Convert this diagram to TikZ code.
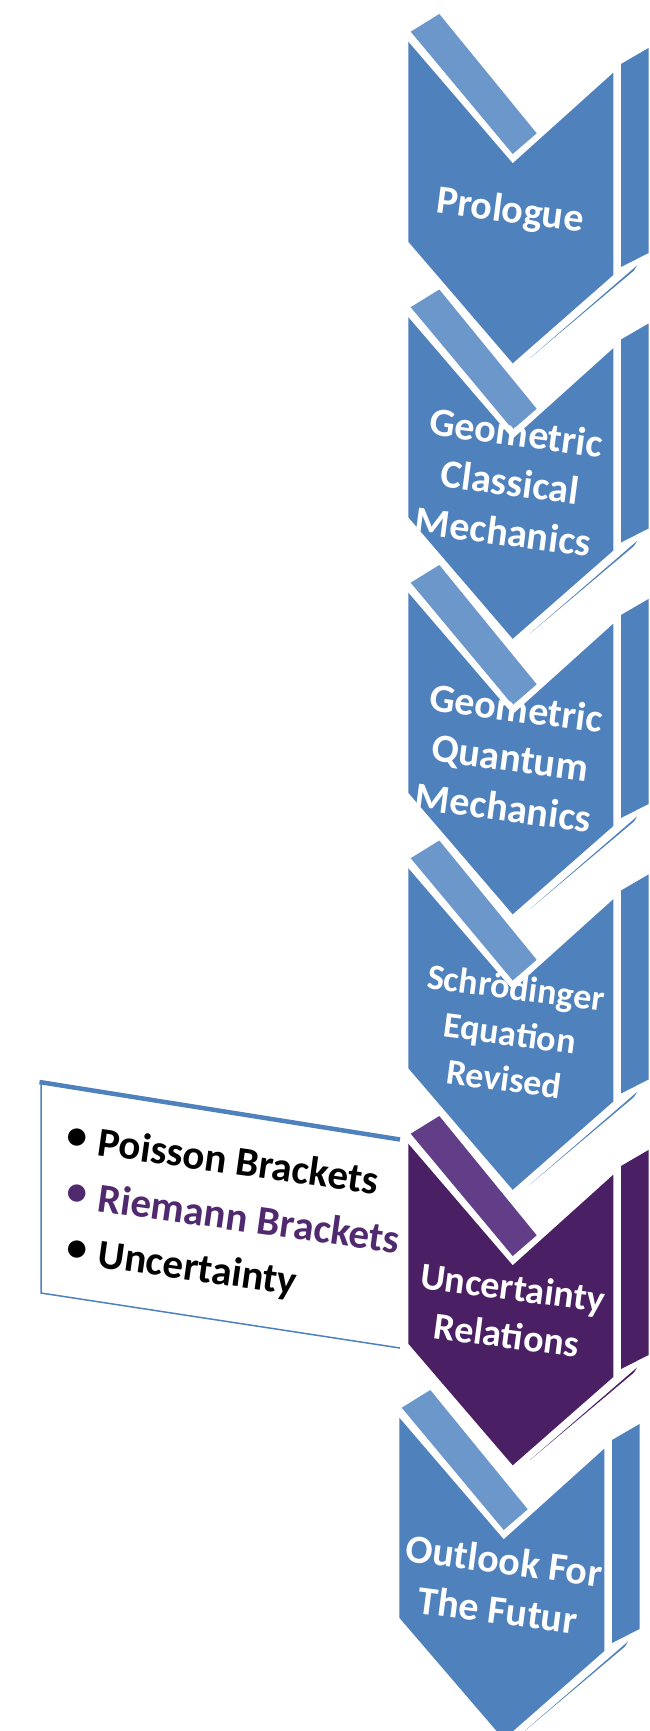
\documentclass[tikz,border=0pt]{standalone}
\usepackage{fontspec}
\setmainfont{Carlito}
\definecolor{cblue}{HTML}{4F81BD}
\definecolor{cbar}{HTML}{6C97CB}
\definecolor{cpurple}{HTML}{4B1F63}
\definecolor{cpbar}{HTML}{623E88}
\definecolor{ctextp}{HTML}{51296E}
\newcommand{\mychev}[3]{%
\begin{scope}[shift={#1}]
 \fill[#3] (410.7,31.7) -- (439.3,14) -- (536.7,133.3) -- (512.7,154) -- cycle;
 \fill[#2] (408.3,41.7) -- (512.7,163.3) -- (613.3,72.7) -- (613.3,275) -- (512.7,363.3) -- (408.3,241.7) -- cycle;
 \fill[#2] (621,64) -- (648.5,48) -- (648.5,253) -- (621,267) -- cycle;
 \fill[#2] (530,358) -- (637,265.5) -- (634,270.5) -- cycle;
\end{scope}}
\newcommand{\mybul}{\makebox[31.7pt][l]{\raisebox{3pt}{•}}}
\begin{document}
\begin{tikzpicture}[x=1pt,y=-1pt,
  chevtext/.style={text=white,font=\fontsize{40}{50}\selectfont\bfseries,align=center,rotate=-7.5,inner sep=0pt},
  itemtext/.style={anchor=base west,font=\fontsize{41}{48}\selectfont\bfseries,rotate=-8,inner sep=0pt}]
\useasboundingbox (0,0) rectangle (650,1731);
\clip (0,0) rectangle (650,1731);
\fill[white] (0,0) rectangle (650,1731);

\mychev{(0,0)}{cblue}{cbar}
\mychev{(0,275.5)}{cblue}{cbar}
\mychev{(0,551)}{cblue}{cbar}
\mychev{(0,826.5)}{cblue}{cbar}
\mychev{(0,1102)}{cpurple}{cpbar}
\mychev{(-9,1376)}{cblue}{cbar}

\node[chevtext] (prologue) at (510,212) {Prologue};
\node[chevtext] (gcm) at (510,482) {Geometric\\Classical\\Mechanics};
\node[chevtext] (gqm) at (510,757.5) {Geometric\\Quantum\\Mechanics};
\node[chevtext,font=\fontsize{36}{46}\selectfont\bfseries] (ser) at (510,1033) {Schrödinger\\Equation\\Revised};
\node[chevtext,font=\fontsize{38}{48}\selectfont\bfseries] (ur) at (510,1311) {Uncertainty\\Relations};
\node[chevtext] (outlook) at (501,1585) {Outlook For\\The Futur};

% detail box
\fill[white] (41,1083) -- (400,1140) -- (400,1348) -- (41,1293) -- cycle;
\draw[cblue,line width=1.5pt] (41,1083) -- (41,1293) -- (400,1348);
\draw[cblue,line width=4.5pt] (39.5,1082) -- (400,1139.5);

\node[itemtext] (i1) at (65,1150.6) {\mybul Poisson Brackets};
\node[itemtext,text=ctextp] (i2) at (65,1206.6) {\mybul Riemann Brackets};
\node[itemtext] (i3) at (65,1262.6) {\mybul Uncertainty};
\end{tikzpicture}
\end{document}
